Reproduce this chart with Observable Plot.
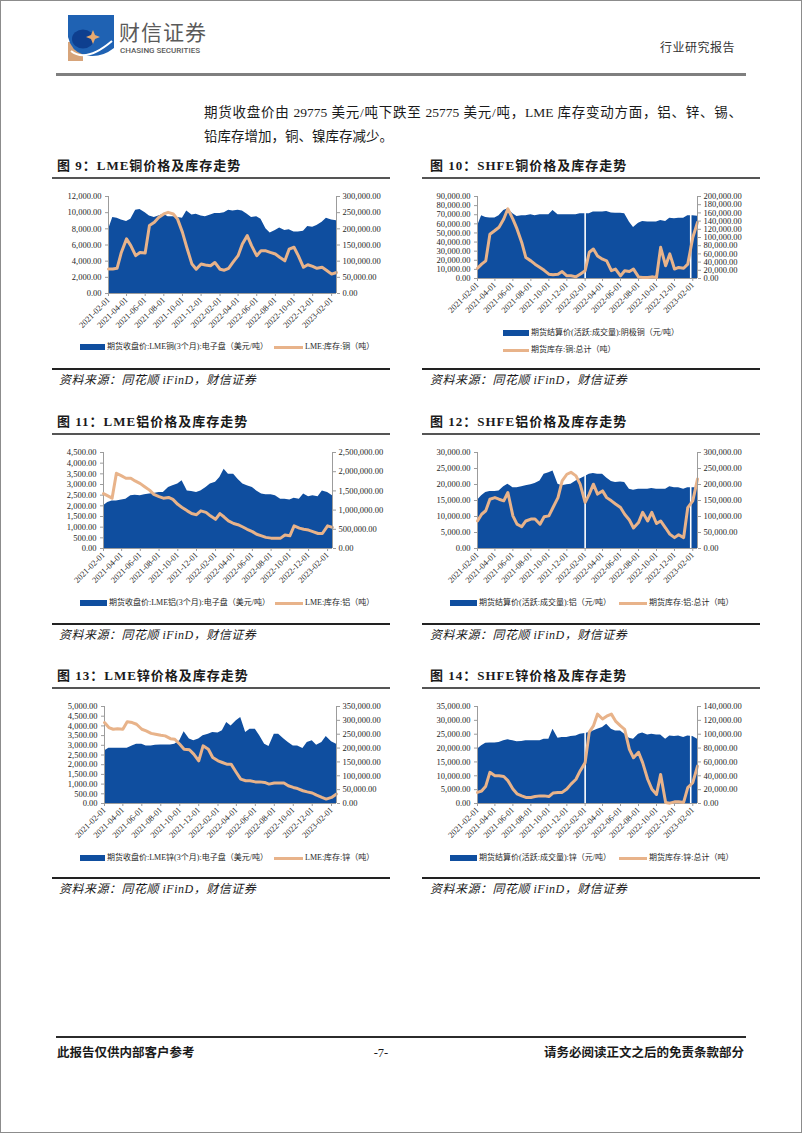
<!DOCTYPE html>
<html><head><meta charset="utf-8">
<script src="https://cdn.jsdelivr.net/npm/d3@7"></script>
<script src="https://cdn.jsdelivr.net/npm/@observablehq/plot@0.6"></script>
<style>
body{margin:0;background:#fff;}
#page{position:relative;width:802px;height:1133px;overflow:hidden;background:#fff;font-family:"Liberation Serif","Noto Sans CJK SC",serif;color:#1a1a1a;}
.a{position:absolute;white-space:nowrap;}
.hr{position:absolute;}
.title{font-weight:bold;font-size:13px;line-height:16px;letter-spacing:1px;}
.src{font-style:italic;font-size:12px;line-height:14px;letter-spacing:0.5px;}
.lg{position:absolute;font-size:8px;line-height:10px;white-space:nowrap;color:#262626;}
.chart svg{position:absolute;left:0;top:0;}
</style></head>
<body><div id="page">
<div style="position:absolute;left:0;top:0;width:802px;height:1133px;box-sizing:border-box;border:1px solid #8c8c8c;pointer-events:none;z-index:5"></div>
<svg class="a" style="left:68px;top:15px" width="46" height="46" viewBox="0 0 46 46">
  <rect x="0" y="0" width="46" height="46" fill="#fff"/>
  <rect x="0" y="27" width="15" height="19" fill="#d7a47a"/>
  <path d="M0,0 H46 V33 Q32,44 16,40 Q3,36 0,22 Z" fill="#1f62b3"/>
  <ellipse cx="15" cy="24" rx="11" ry="9.5" fill="#0e3f8f"/>
  <path d="M3,36 Q18,48 44,26" stroke="#fff" stroke-width="2" fill="none"/>
  <path d="M25,15 L27,20 L32,22 L27,24 L25,29 L23,24 L18,22 L23,20 Z" fill="#e8aa6f"/>
</svg>
<div class="a" style="left:119px;top:20px;font:21px/22px 'Noto Sans CJK SC',sans-serif;color:#5a5a5a;letter-spacing:1px">财信证券</div>
<div class="a" style="left:120px;top:46px;font:500 8px/10px Roboto,sans-serif;color:#5a5a5a;">CHASING SECURITIES</div>
<div class="a" style="right:67px;top:41px;font-size:12px;line-height:14px;color:#333;letter-spacing:0.5px">行业研究报告</div>
<div class="hr" style="left:56px;top:73px;width:690px;height:2.5px;background:#7f7f7f"></div>

<div class="a" style="left:204px;top:101px;width:538px;font-size:13.5px;line-height:24px;text-align:justify;text-align-last:justify;white-space:normal">期货收盘价由 29775 美元/吨下跌至 25775 美元/吨，LME 库存变动方面，铝、锌、锡、</div>
<div class="a" style="left:204px;top:125px;font-size:13.5px;line-height:24px;">铅库存增加，铜、镍库存减少。</div>

<div id="charts"></div>

<div class="hr" style="left:56px;top:1036px;width:690px;height:2px;background:#2b2b2b"></div>
<div class="a" style="left:57px;top:1045px;font-weight:bold;font-size:12.5px;line-height:16px;">此报告仅供内部客户参考</div>
<div class="a" style="left:366px;top:1045px;width:30px;text-align:center;font-size:12.5px;line-height:16px;">-7-</div>
<div class="a" style="right:58px;top:1045px;font-weight:bold;font-size:12.5px;line-height:16px;">请务必阅读正文之后的免责条款部分</div>
</div>
<script>
// ---------- shared x values (semi-monthly readings) ----------
const dates = ["2021-02-01","2021-02-15","2021-03-01","2021-03-15","2021-04-01","2021-04-15","2021-05-01","2021-05-15","2021-06-01","2021-06-15","2021-07-01","2021-07-15","2021-08-01","2021-08-15","2021-09-01","2021-09-15","2021-10-01","2021-10-15","2021-11-01","2021-11-15","2021-12-01","2021-12-15",
"2022-01-01","2022-01-15","2022-02-01","2022-02-15","2022-03-01","2022-03-15","2022-04-01","2022-04-15","2022-05-01","2022-05-15","2022-06-01","2022-06-15","2022-07-01","2022-07-15","2022-08-01","2022-08-15","2022-09-01","2022-09-15","2022-10-01","2022-10-15","2022-11-01","2022-11-15","2022-12-01","2022-12-15",
"2023-01-01","2023-01-15","2023-02-01","2023-02-17"];
const tickDates = ["2021-02-01","2021-04-01","2021-06-01","2021-08-01","2021-10-01","2021-12-01","2022-02-01","2022-04-01","2022-06-01","2022-08-01","2022-10-01","2022-12-01","2023-02-01"];
const shfeGaps = ["2022-02-01","2023-01-25"];

// ---------- series values (thousands) ----------
const lmeCuPrice = [7.9,9.4,9.3,9.1,8.9,9.2,10.3,10.4,10.0,9.6,9.4,9.6,9.8,9.5,9.5,9.4,9.3,10.2,9.7,9.8,9.6,9.5,
 9.7,9.9,9.9,10.0,10.3,10.2,10.3,10.2,9.8,9.4,9.5,9.2,8.0,7.5,7.8,8.1,7.8,7.9,7.6,7.6,7.7,8.3,8.2,8.4,
 8.8,9.3,9.1,9.0];
const lmeCuStock = [76,76,78,127,169,148,117,127,125,210,220,235,246,251,246,230,189,143,91,75,91,88,
 86,96,75,72,78,96,117,153,179,148,117,132,132,127,122,112,101,137,143,117,81,89,84,78,
 81,72,60,65];
const shfeCuPrice = [57.3,69,67,66.5,66.5,69,74.6,76.5,71,68,69,69,70,69,70,70,70,74.6,70,70,70,70,
 70,71,71,71,73,73,73,73.5,72,71.7,71.7,71,62,56,60.6,62.5,62,62,62,63.6,62.5,66,65.5,66,
 66,69,69,68.4];
const shfeCuStock = [25,35,43,108,117,125,145,170,145,121,88,51,43,35,27,20,10.6,9,10.6,17,6.5,6.5,
 4,10.6,19,64,72,55,47,43,19,23,6.5,19,17,23,4,2.5,2.5,4,2.5,76,31,60,23,27,
 25,35,100,137];
const lmeAlPrice = [2.0,2.16,2.23,2.23,2.27,2.31,2.47,2.5,2.47,2.52,2.55,2.58,2.62,2.62,2.86,2.94,3.02,3.17,2.7,2.67,2.62,2.7,
 2.86,3.02,3.1,3.33,3.72,3.48,3.48,3.25,3.02,2.94,2.86,2.7,2.55,2.52,2.52,2.47,2.31,2.31,2.27,2.36,2.31,2.55,2.42,2.47,
 2.42,2.7,2.62,2.47];
const lmeAlStock = [1430,1370,1310,1960,1890,1830,1830,1760,1690,1610,1520,1410,1350,1310,1330,1280,1150,1070,980,910,880,980,
 940,850,760,910,820,720,650,620,560,500,440,370,330,290,270,270,270,350,330,590,530,500,480,440,
 390,390,590,550];
const shfeAlPrice = [15.1,16.5,17.5,17.8,17.8,18.0,19.3,20.1,19.0,19.0,19.3,19.6,19.9,20.3,21.1,23.2,23.7,24.2,20.1,19.6,19.9,20.1,
 21.1,21.7,22.5,23.2,23.4,23.2,23.2,22.0,20.9,20.6,20.8,20.6,18.5,18.2,18.5,18.5,18.5,18.75,18.5,18.5,18.5,19.3,19.0,19.0,
 18.5,19.0,19.0,19.0];
const shfeAlStock = [86,107,118,154,159,154,149,175,102,76,68,86,92,92,76,99,102,128,159,211,232,238,
 227,201,144,170,201,170,180,159,149,139,128,107,89,64,81,113,86,113,78,86,64,45,34,43,
 34,128,149,217];
const lmeZnPrice = [2.71,2.85,2.85,2.85,2.85,2.85,2.97,3.06,3.06,2.97,2.97,3.0,3.02,3.02,3.02,3.06,3.23,3.7,3.32,3.23,3.32,3.49,
 3.57,3.66,3.63,3.75,4.18,4.0,4.26,4.43,3.66,3.83,3.83,3.49,3.06,2.94,3.57,3.57,3.32,3.14,2.97,2.97,2.84,3.14,3.23,3.0,
 3.14,3.45,3.18,3.06];
const lmeZnStock = [292,274,268,270,268,295,292,286,268,262,253,250,246,244,234,232,214,196,194,178,154,208,
 196,166,154,148,142,142,112,88,82,82,78,78,76,70,74,74,74,64,58,54,46,42,38,30,
 22,16,22,34];
const shfeZnPrice = [19.6,20.8,21.7,21.8,21.8,22.0,22.6,23.0,22.6,22.3,22.4,22.6,22.6,22.6,22.6,23.2,23.2,26.8,23.5,23.8,23.8,24.2,
 24.4,25.0,25.3,25.6,26.2,26.8,27.4,28.6,26.8,26.2,26.2,25.0,23.5,23.2,25.0,25.4,24.7,25.0,24.7,24.7,23.2,24.4,24.2,24.4,
 23.8,24.4,24.2,23.2];
const shfeZnStock = [16,18,25,45,40,40,39,33,21,14,11,8.7,8.7,10,11,11,10,15,16,16,21,28,
 35,47,59,103,112,129,122,126,129,119,112,107,78,66,74,59,35,21,13,42,1.5,0.5,2.4,2.4,
 1.5,23,30,54];

// ---------- tick labels ----------
const lt9 = [0,2000,4000,6000,8000,10000,12000], rt9 = [0,50000,100000,150000,200000,250000,300000];
const lt10 = [0,10000,20000,30000,40000,50000,60000,70000,80000,90000], rt10 = [0,20000,40000,60000,80000,100000,120000,140000,160000,180000,200000];
const lt11 = [0,500,1000,1500,2000,2500,3000,3500,4000,4500], rt11 = [0,500000,1000000,1500000,2000000,2500000];
const lt12 = [0,5000,10000,15000,20000,25000,30000], rt12 = [0,50000,100000,150000,200000,250000,300000];
const lt13 = [0,500,1000,1500,2000,2500,3000,3500,4000,4500,5000], rt13 = [0,50000,100000,150000,200000,250000,300000,350000];
const lt14 = [0,5000,10000,15000,20000,25000,30000,35000], rt14 = [0,20000,40000,60000,80000,100000,120000,140000];

const BLUE = "#0f4e9f", TAN = "#e8b38a", AXIS = "#9c9c9c";
const SERIF = '"Liberation Serif","Times New Roman",serif';
const parse = d3.utcParse("%Y-%m-%d");
const fmt2 = d3.format(",.2f");
const xDomain = [parse(dates[0]), parse(dates[dates.length - 1])];
const page = document.getElementById("page");

function addDiv(cls, style, text) {
  const d = document.createElement("div");
  d.className = cls; d.setAttribute("style", style);
  if (text) d.textContent = text;
  page.appendChild(d); return d;
}

function makeChart(c) {
  const rows = dates.map((d, i) => ({date: parse(d), price: c.price[i] * 1000, stock: c.stock[i] * 1000}));
  const common = {width: c.w, height: c.h, marginLeft: c.ml, marginRight: c.mr, marginTop: c.mt, marginBottom: c.mb,
    style: {fontFamily: SERIF, fontSize: "8.5px", color: "#262626", background: "transparent", overflow: "visible"}};
  const base = Plot.plot({...common,
    x: {type: "utc", domain: xDomain},
    y: {domain: [0, c.lt[c.lt.length - 1]]},
    marks: [
      Plot.areaY(rows, {x: "date", y: "price", fill: BLUE}),
      Plot.ruleX((c.gaps || []).map(parse), {stroke: "#fff", strokeWidth: 1.6}),
      Plot.ruleY([0], {stroke: AXIS}),
      Plot.ruleX([xDomain[0]], {stroke: AXIS}),
      Plot.axisY(c.lt, {tickFormat: fmt2, tickSize: 3, tickPadding: 4, stroke: AXIS, label: null}),
      Plot.axisX(tickDates.map(parse), {tickFormat: d3.utcFormat("%Y-%m-%d"), tickRotate: -45, tickSize: 3, tickPadding: 2, stroke: AXIS, label: null})
    ]});
  const over = Plot.plot({...common,
    x: {type: "utc", domain: xDomain, axis: null},
    y: {domain: [0, c.rt[c.rt.length - 1]], axis: null},
    marks: [
      Plot.line(rows, {x: "date", y: "stock", stroke: TAN, strokeWidth: 3, strokeLinejoin: "round"}),
      Plot.ruleX([xDomain[1]], {stroke: AXIS}),
      Plot.axisY(c.rt, {anchor: "right", tickFormat: fmt2, tickSize: 3, tickPadding: 3, stroke: AXIS, label: null})
    ]});
  const box = addDiv("chart", `position:absolute;left:${c.left}px;top:${c.top}px;width:${c.w}px;height:${c.h}px;`);
  box.appendChild(base); box.appendChild(over);

  // title, rules, source
  const col = c.left < 200 ? {l: 52, t: 57, s: 59} : {l: 422, t: 430, s: 430};
  addDiv("a title", `left:${col.t}px;top:${c.top - 28}px;`, c.title);
  addDiv("hr", `left:${col.l}px;top:${c.top - 9}px;width:338px;height:1.5px;background:#555`);
  addDiv("hr", `left:${col.l}px;top:${c.sep}px;width:338px;height:1.5px;background:#222`);
  addDiv("a src", `left:${col.s}px;top:${c.sep + 5}px;`, "资料来源：同花顺 iFinD，财信证券");
  // legend
  for (const it of c.legend) {
    if (it.kind === "area") addDiv("hr", `left:${it.x}px;top:${it.y - 3}px;width:${it.w}px;height:6px;background:${BLUE}`);
    else addDiv("hr", `left:${it.x}px;top:${it.y - 1.5}px;width:${it.w}px;height:3px;background:${TAN}`);
    addDiv("lg", `left:${it.x + it.w + 2}px;top:${it.y - 5}px;`, it.text);
  }
}

const charts = [
  {title: "图 9：LME铜价格及库存走势", left: 52, top: 186, w: 338, h: 142, ml: 56, mr: 54, mt: 10, mb: 35, sep: 368,
   price: lmeCuPrice, stock: lmeCuStock, lt: lt9, rt: rt9,
   legend: [{kind: "area", x: 80, y: 347, w: 25, text: "期货收盘价:LME铜(3个月):电子盘（美元/吨）"},
            {kind: "line", x: 274, y: 347, w: 29, text: "LME:库存:铜（吨）"}]},
  {title: "图 10：SHFE铜价格及库存走势", left: 424, top: 186, w: 336, h: 127, ml: 53, mr: 63, mt: 10, mb: 35, sep: 368,
   price: shfeCuPrice, stock: shfeCuStock, lt: lt10, rt: rt10, gaps: shfeGaps,
   legend: [{kind: "area", x: 503, y: 333, w: 26, text: "期货结算价(活跃:成交量):阴极铜（元/吨）"},
            {kind: "line", x: 503, y: 350, w: 26, text: "期货库存:铜:总计（吨）"}]},
  {title: "图 11：LME铝价格及库存走势", left: 52, top: 442, w: 338, h: 141, ml: 51, mr: 58, mt: 10, mb: 35, sep: 623,
   price: lmeAlPrice, stock: lmeAlStock, lt: lt11, rt: rt11,
   legend: [{kind: "area", x: 80, y: 603, w: 27, text: "期货收盘价:LME铝(3个月):电子盘（美元/吨）"},
            {kind: "line", x: 275, y: 603, w: 28, text: "LME:库存:铝（吨）"}]},
  {title: "图 12：SHFE铝价格及库存走势", left: 424, top: 442, w: 336, h: 141, ml: 53, mr: 63, mt: 10, mb: 35, sep: 623,
   price: shfeAlPrice, stock: shfeAlStock, lt: lt12, rt: rt12, gaps: shfeGaps,
   legend: [{kind: "area", x: 450, y: 603, w: 27, text: "期货结算价(活跃:成交量):铝（元/吨）"},
            {kind: "line", x: 619, y: 603, w: 28, text: "期货库存:铝:总计（吨）"}]},
  {title: "图 13：LME锌价格及库存走势", left: 52, top: 696, w: 338, h: 142, ml: 52, mr: 54, mt: 10, mb: 35, sep: 877,
   price: lmeZnPrice, stock: lmeZnStock, lt: lt13, rt: rt13,
   legend: [{kind: "area", x: 80, y: 858, w: 25, text: "期货收盘价:LME锌(3个月):电子盘（美元/吨）"},
            {kind: "line", x: 274, y: 858, w: 29, text: "LME:库存:锌（吨）"}]},
  {title: "图 14：SHFE锌价格及库存走势", left: 424, top: 696, w: 336, h: 142, ml: 53, mr: 63, mt: 10, mb: 35, sep: 877,
   price: shfeZnPrice, stock: shfeZnStock, lt: lt14, rt: rt14, gaps: shfeGaps,
   legend: [{kind: "area", x: 450, y: 858, w: 27, text: "期货结算价(活跃:成交量):锌（元/吨）"},
            {kind: "line", x: 619, y: 858, w: 28, text: "期货库存:锌:总计（吨）"}]}
];
charts.forEach(makeChart);
</script>
</body></html>
